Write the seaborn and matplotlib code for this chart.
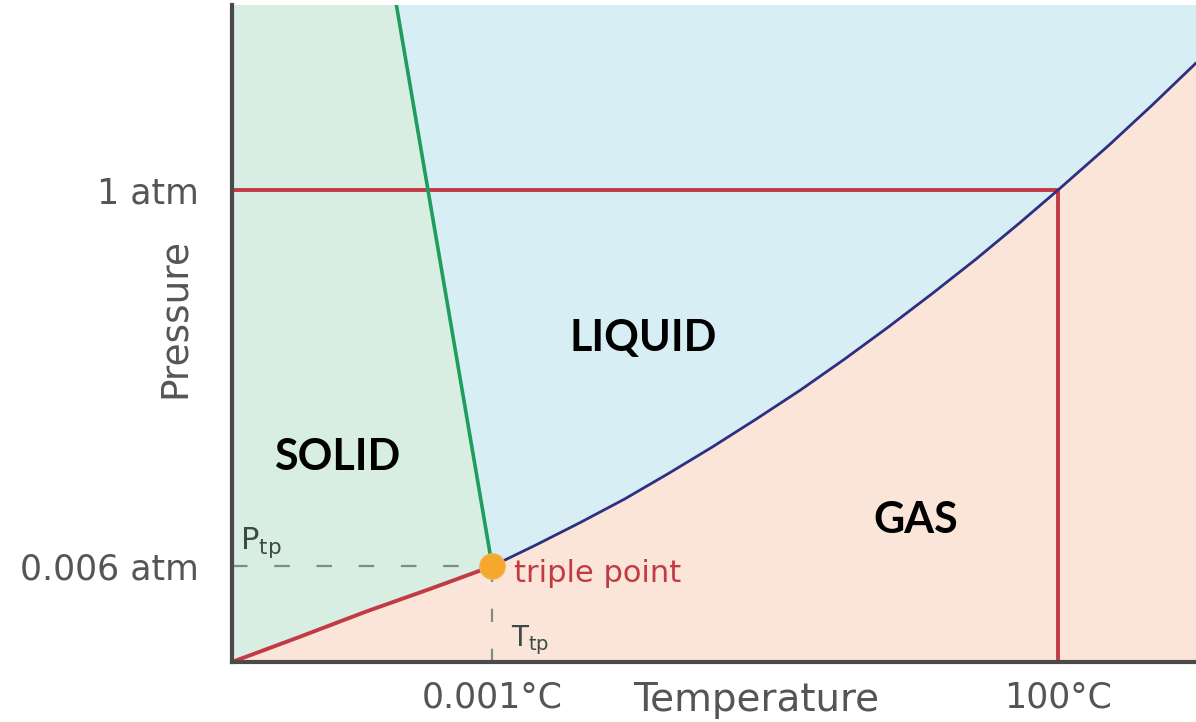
import numpy as np
import pandas as pd
import matplotlib
matplotlib.use("Agg")
import matplotlib.pyplot as plt
import seaborn as sns

# --- data (schematic units: 100 on x = 100 C, 100 on y = 1 atm) ---
triple_t = 31.5
triple_p = 20.3
boil_t = 100.0
one_atm = 100.0
t_max = 116.7
p_max = 139.2

# sublimation curve (solid / gas)
sub_t = [0.0, 8.0, 16.1, 24.0, 31.5]
sub_p = [0.0, 5.2, 10.6, 15.5, 20.3]

# melting curve (solid / liquid)
melt_t = [31.5, 19.9]
melt_p = [20.3, 139.2]

# vaporization curve (liquid / gas)
vap_t = [31.5, 36.8, 42.1, 47.5, 52.8, 58.1, 63.4, 68.8, 74.1, 79.4,
         84.8, 90.1, 95.4, 100.0, 106.1, 111.4, 116.7]
vap_p = [20.3, 24.8, 29.5, 34.5, 39.9, 45.5, 51.4, 57.6, 64.1, 70.9,
         78.1, 85.4, 93.1, 100.0, 109.4, 118.0, 126.9]

x_ticks = [triple_t, boil_t]
x_labels = ["0.001°C", "100°C"]
y_ticks = [triple_p, one_atm]
y_labels = ["0.006 atm", "1 atm"]

regions = ["SOLID", "LIQUID", "GAS"]
region_t = [12.7, 49.8, 82.8]
region_p = [43.4, 68.6, 30.1]

# --- colours ---
c_solid = "#d9eee2"
c_liquid = "#d7eef5"
c_gas = "#fbe5d8"
c_green = "#1f9d5c"
c_navy = "#2e2f82"
c_red = "#c23b44"
c_grey = "#555555"

sns.set_theme(style="white")
plt.rcParams["font.family"] = ["DejaVu Sans"]

fig = plt.figure(figsize=(11.96, 7.22), dpi=100)
ax = fig.add_axes([232 / 1196, 60 / 722, 964 / 1196, 657 / 722])
ax.set_facecolor(c_gas)

# filled regions
solid_x = sub_t + melt_t[1:] + [0.0]
solid_y = sub_p + melt_p[1:] + [p_max]
ax.fill(solid_x, solid_y, color=c_solid, lw=0, zorder=1)

liq_x = vap_t + [t_max, melt_t[1]]
liq_y = vap_p + [p_max, p_max]
ax.fill(liq_x, liq_y, color=c_liquid, lw=0, zorder=1)

# 1 atm guide lines
ax.plot([0, boil_t, boil_t], [one_atm, one_atm, 0], color=c_red, lw=2.8, zorder=3)

# triple point guides
ax.plot([0, triple_t], [triple_p, triple_p], color="#7d8c84", lw=1.6,
        ls=(0, (7, 12)), zorder=3)
ax.plot([triple_t, triple_t], [0, triple_p], color="#7d8c84", lw=1.6,
        ls=(0, (6, 12)), zorder=3)

# phase boundaries
curves = pd.concat([
    pd.DataFrame({"T": sub_t, "P": sub_p, "curve": "sub"}),
    pd.DataFrame({"T": melt_t, "P": melt_p, "curve": "melt"}),
    pd.DataFrame({"T": vap_t, "P": vap_p, "curve": "vap"}),
])
widths = {"sub": 2.8, "melt": 2.6, "vap": 2.0}
for name, col in [("sub", c_red), ("melt", c_green), ("vap", c_navy)]:
    sns.lineplot(data=curves[curves["curve"] == name], x="T", y="P", sort=False,
                 color=col, lw=widths[name], ax=ax, zorder=4)

ax.scatter([triple_t], [triple_p], s=330, color="#f6a82c", edgecolor="#f2b04a",
           lw=1, zorder=5)

# labels
for name, tx, py in zip(regions, region_t, region_p):
    ax.text(tx, py, name, ha="center", va="center", fontsize=31,
            fontweight="bold", family=["Lato", "DejaVu Sans"], color="black", zorder=6)

ax.text(triple_t + 2.6, triple_p - 1.5, "triple point", color=c_red, fontsize=22,
        ha="left", va="center", zorder=6)
ax.text(1.0, triple_p + 1.4, r"$\mathrm{P_{tp}}$", color="#3c4a44", fontsize=22,
        ha="left", va="bottom", zorder=6)
ax.text(triple_t + 2.3, 1.0, r"$\mathrm{T_{tp}}$", color="#3c4a44", fontsize=20,
        ha="left", va="bottom", zorder=6)

ax.set_xlim(0, t_max)
ax.set_ylim(0, p_max)
ax.set_xticks(x_ticks)
ax.set_xticklabels(x_labels)
ax.set_yticks(y_ticks)
ax.set_yticklabels(y_labels)
ax.tick_params(axis="both", length=0, labelsize=25, colors=c_grey)
ax.tick_params(axis="x", pad=13)
ax.tick_params(axis="y", pad=24)

ax.set_xlabel("Temperature", fontsize=28, color=c_grey)
ax.xaxis.set_label_coords((756 - 232) / 964, -38 / 657)
ax.xaxis.label.set_va("center")
ax.set_ylabel("Pressure", fontsize=27, color=c_grey)
ax.yaxis.set_label_coords(-57 / 964, (662 - 318) / 657)
ax.yaxis.label.set_va("center")

for side in ["top", "right"]:
    ax.spines[side].set_visible(False)
for side in ["left", "bottom"]:
    ax.spines[side].set_color("#4a4a4a")
    ax.spines[side].set_linewidth(3)
    ax.spines[side].set_zorder(7)

fig.savefig("out.png", dpi=100)
